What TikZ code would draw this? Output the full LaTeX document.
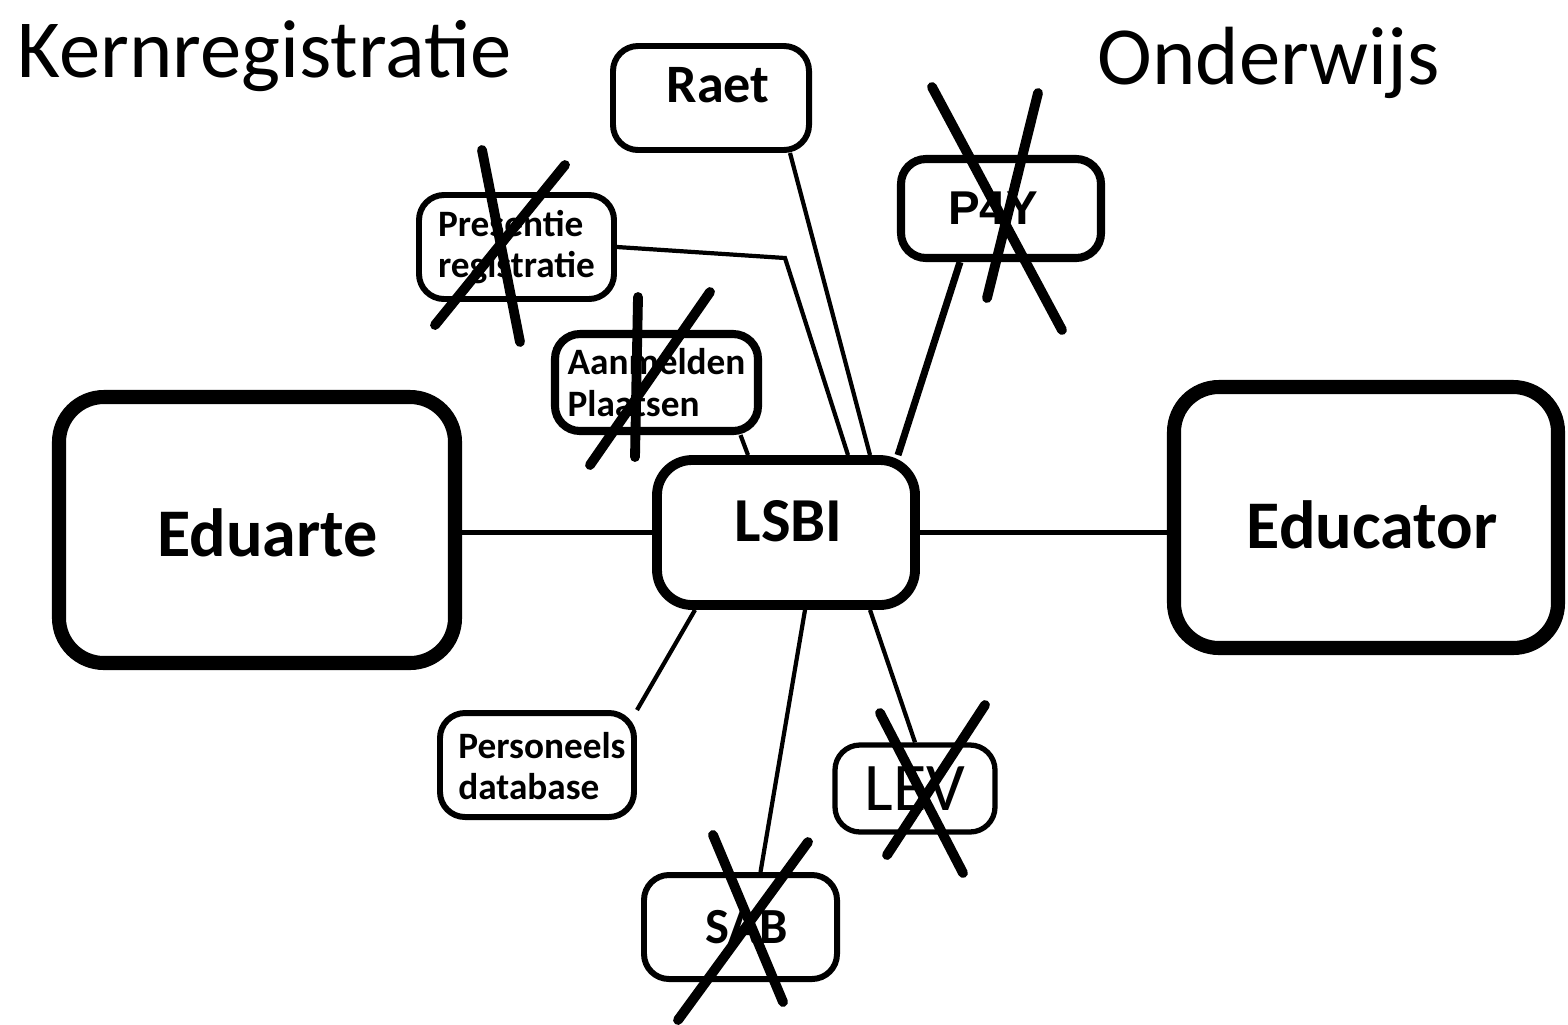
\documentclass[tikz,border=0pt]{standalone}
\usepackage{fontspec}
\setmainfont{Carlito}
\newfontfamily\arialf{Liberation Sans}
\begin{document}
\begin{tikzpicture}[x=1cm,y=1cm,
  box/.style={draw, rounded corners=0.25cm, line width=1.7pt, inner sep=0pt, font=\bfseries},
  bigbox/.style={draw, rounded corners=0.45cm, line width=4pt, inner sep=0pt},
  bigtext/.style={font=\bfseries\fontsize{19.4}{22}\selectfont, inner sep=0pt},
  small/.style={font=\bfseries\fontsize{10.6}{11.7}\selectfont, align=left},
  conn/.style={line width=1.2pt},
  cross/.style={line width=2.8pt, line cap=round},
  title/.style={font=\fontsize{23.5}{26}\selectfont, inner sep=0pt, anchor=base west}
]
\useasboundingbox (0,0) rectangle (15.68,-10.24);

\node[title] (kern) at (0.17,-0.77) {Kernregistratie};
\node[title] (ond) at (10.97,-0.84) {Onderwijs};

\node[box, minimum width=1.96cm, minimum height=1.04cm] (raet) at (7.11,-0.98) {};
\node[font=\bfseries\fontsize{15.4}{18}\selectfont, inner sep=0pt] (raet-t) at ([shift={(0.07,0.13)}]raet.center) {Raet};
\node[box, small, minimum width=1.95cm, minimum height=1.04cm] (pres) at (5.165,-2.47) {Presentie\\registratie};
\node[box, small, line width=2.3pt, minimum width=2.03cm, minimum height=0.97cm] (aanm) at (6.565,-3.825) {Aanmelden\\Plaatsen};
\node[box, line width=2.3pt, minimum width=2.0cm, minimum height=0.99cm] (p4y) at (10.01,-2.085) {};
\node[font=\arialf\bfseries\fontsize{13.5}{16}\selectfont, inner sep=0pt] (p4y-t) at ([shift={(-0.08,0)}]p4y.center) {P4Y};
\node[bigbox, minimum width=3.96cm, minimum height=2.66cm] (eduarte) at (2.57,-5.30) {};
\node[bigtext] (eduarte-t) at (2.675,-5.33) {Eduarte};
\node[box, line width=2.8pt, rounded corners=0.35cm, minimum width=2.58cm, minimum height=1.45cm] (lsbi) at (7.86,-5.325) {};
\node[font=\bfseries\fontsize{17.8}{20}\selectfont, inner sep=0pt] (lsbi-t) at (7.885,-5.215) {LSBI};
\node[bigbox, minimum width=3.84cm, minimum height=2.61cm] (educator) at (13.66,-5.175) {};
\node[bigtext] (educator-t) at (13.72,-5.25) {Educator};
\node[box, small, minimum width=1.94cm, minimum height=1.04cm] (pers) at (5.37,-7.65) {};
\node[small, inner sep=0pt] (pers-t) at (5.42,-7.66) {Personeels\\database};
\node[box, line width=1.5pt, minimum width=1.6cm, minimum height=0.87cm, font=\fontsize{19.4}{22}\selectfont] (lev) at (9.15,-7.885) {LEV};
\node[box, minimum width=1.93cm, minimum height=1.04cm] (sab) at (7.405,-9.27) {};
\node[font=\bfseries\fontsize{14.4}{17}\selectfont, inner sep=0pt] (sab-t) at (7.465,-9.27) {SAB};

\coordinate (presbend) at (7.85,-2.58);

\draw[conn] (eduarte.east |- lsbi.west) -- (lsbi.west);
\draw[conn] (lsbi.east) -- (lsbi.east -| educator.west);
\draw[conn] ([xshift=0.79cm]raet.south) -- ([xshift=0.84cm]lsbi.north);
\draw[conn] (pres.east) -- (presbend) -- ([xshift=0.62cm]lsbi.north);
\draw[conn] ([xshift=0.84cm]aanm.south) -- ([xshift=-0.38cm]lsbi.north);
\draw[line width=2pt] ([xshift=-0.41cm]p4y.south) -- ([xshift=1.12cm]lsbi.north);
\draw[conn] (pers.north east) -- ([xshift=-0.91cm]lsbi.south);
\draw[conn] ([xshift=0.2cm]sab.north) -- ([xshift=0.19cm]lsbi.south);
\draw[conn] (lev.north) -- ([xshift=0.84cm]lsbi.south);

% crosses
\draw[cross] (4.82,-1.50) -- (5.20,-3.42);
\draw[cross] (5.65,-1.65) -- (4.35,-3.25);
\draw[cross] (6.38,-2.97) -- (6.35,-4.57);
\draw[cross] (7.10,-2.92) -- (5.90,-4.65);
\draw[cross] (9.32,-0.87) -- (10.62,-3.30);
\draw[cross] (10.38,-0.93) -- (9.87,-2.98);
\draw[cross] (8.80,-7.13) -- (9.63,-8.73);
\draw[cross] (9.85,-7.05) -- (8.87,-8.55);
\draw[cross] (7.13,-8.35) -- (7.83,-10.02);
\draw[cross] (8.08,-8.42) -- (6.78,-10.20);
\end{tikzpicture}
\end{document}
